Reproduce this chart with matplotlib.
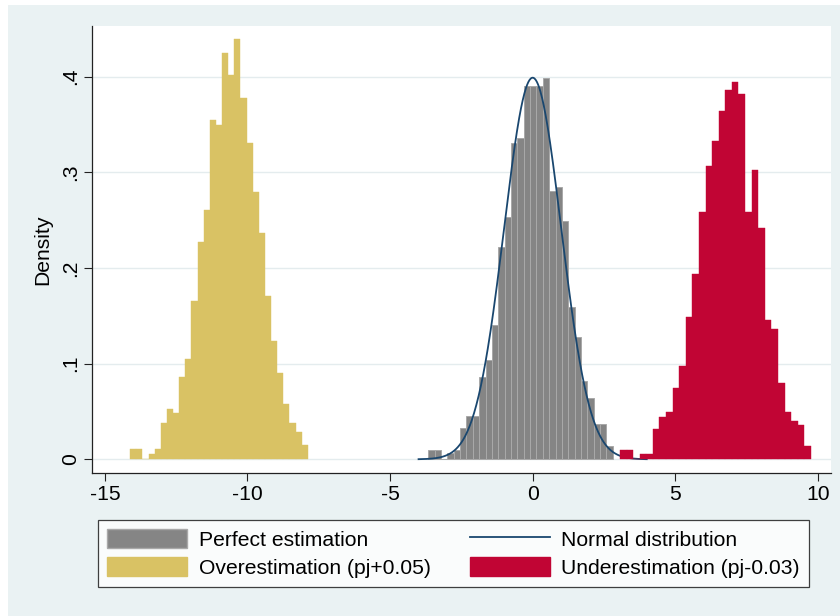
import numpy as np
import matplotlib
matplotlib.use("Agg")
import matplotlib.pyplot as plt
from matplotlib.patches import Patch, Rectangle
from matplotlib.lines import Line2D

# ---------------- data ----------------
# histograms: first bin left edge, bin width, density per bin
perfect_start = -3.66
perfect_width = 0.2231
perfect_density = [0.0098, 0.0098, 0.0, 0.0063, 0.0098, 0.0324, 0.0456, 0.0456,
                   0.0864, 0.1039, 0.1404, 0.2223, 0.2537, 0.3311, 0.3356, 0.3903,
                   0.3903, 0.3903, 0.3983, 0.2809, 0.2851, 0.2492, 0.1589, 0.1275,
                   0.0819, 0.0638, 0.0369, 0.0369, 0.0139]

over_start = -14.11
over_width = 0.2148
over_density = [0.0105, 0.0105, 0.0, 0.0056, 0.0105, 0.0383, 0.0526, 0.0481,
                0.0857, 0.1045, 0.1655, 0.2272, 0.2603, 0.3548, 0.3495, 0.4252,
                0.4018, 0.4394, 0.3781, 0.3307, 0.2791, 0.2370, 0.1708, 0.1234,
                0.0906, 0.0575, 0.0383, 0.0289, 0.0150]

under_start = 3.06
under_width = 0.2309
under_density = [0.0098, 0.0098, 0.0, 0.0052, 0.0052, 0.0314, 0.0446, 0.0491,
                 0.0749, 0.0976, 0.1492, 0.1934, 0.2589, 0.3070, 0.3332, 0.3642,
                 0.3861, 0.3945, 0.3816, 0.2589, 0.3025, 0.2415, 0.1457, 0.1359,
                 0.0795, 0.0491, 0.0401, 0.0355, 0.0139]

normal_mu, normal_sd = 0.0, 1.0
normal_range = (-4.0, 4.0)

labels = ["Perfect estimation", "Normal distribution",
          "Overestimation (pj+0.05)", "Underestimation (pj-0.03)"]
xticks = [-15, -10, -5, 0, 5, 10]
yticks = [0, 0.1, 0.2, 0.3, 0.4]
ytick_labels = ["0", ".1", ".2", ".3", ".4"]

# ---------------- style ----------------
BG = "#EAF2F3"
GRAY, GRAY_EDGE = "#858585", "#A9A9A9"
SAND = "#D9C264"
RED = "#C10534"
NAVY = "#1A476F"

plt.rcParams["font.family"] = ["Liberation Sans", "DejaVu Sans"]
plt.rcParams["axes.unicode_minus"] = False
FS = 15.2

fig = plt.figure(figsize=(8.4, 6.16), dpi=100, facecolor="white")
fig.patches.append(Rectangle((8 / 840, 0), 1, 1 - 5 / 616, transform=fig.transFigure,
                             facecolor=BG, edgecolor="none", zorder=-10))

ax = fig.add_axes([91.7 / 840, 1 - 472.7 / 616, (831 - 91.7) / 840, (472.7 - 26) / 616])
ax.set_facecolor("white")


def hist(start, width, dens, color, edge, lw, z):
    lefts = start + width * np.arange(len(dens))
    ax.bar(lefts, dens, width=width, align="edge", color=color,
           edgecolor=edge, linewidth=lw, zorder=z)


hist(perfect_start, perfect_width, perfect_density, GRAY, GRAY_EDGE, 0.7, 2)
xs = np.linspace(*normal_range, 400)
ys = np.exp(-0.5 * ((xs - normal_mu) / normal_sd) ** 2) / (normal_sd * np.sqrt(2 * np.pi))
ax.plot(xs, ys, color=NAVY, lw=1.3, zorder=3)
hist(over_start, over_width, over_density, SAND, SAND, 0.3, 4)
hist(under_start, under_width, under_density, RED, RED, 0.3, 5)

ax.set_xlim(-15.46, 10.46)
ax.set_ylim(-0.014, 0.453)
ax.set_xticks(xticks)
ax.set_xticklabels([str(t) for t in xticks], fontsize=FS)
ax.set_yticks(yticks)
ax.set_yticklabels(ytick_labels, fontsize=FS, rotation=90, va="center")
ax.tick_params(direction="out", length=5.5, width=0.8, color="#222222", pad=3)
ax.grid(axis="y", color="#E4ECEE", lw=1.0, zorder=0)
ax.set_axisbelow(True)
for s in ("top", "right"):
    ax.spines[s].set_visible(False)
for s in ("left", "bottom"):
    ax.spines[s].set_color("#222222")
    ax.spines[s].set_linewidth(0.9)
ax.set_ylabel("Density", fontsize=FS, labelpad=6)

handles = [Patch(facecolor=GRAY, edgecolor=GRAY_EDGE),
           Patch(facecolor=SAND, edgecolor=SAND),
           Line2D([], [], color=NAVY, lw=1.3),
           Patch(facecolor=RED, edgecolor=RED)]
leg_labels = [labels[0], labels[2], labels[1], labels[3]]
leg = fig.legend(handles, leg_labels, ncol=2, loc="upper left",
                 bbox_to_anchor=(98 / 840, 1 - 520 / 616),
                 fontsize=FS, frameon=True, fancybox=False,
                 handlelength=3.8, handleheight=1.05, handletextpad=0.55,
                 labelspacing=0.33, borderpad=0.42, borderaxespad=0,
                 columnspacing=1.85)
leg.get_frame().set_edgecolor("#111111")
leg.get_frame().set_linewidth(0.9)
leg.get_frame().set_facecolor("white")

fig.savefig("out.png", dpi=100, facecolor=fig.get_facecolor())
